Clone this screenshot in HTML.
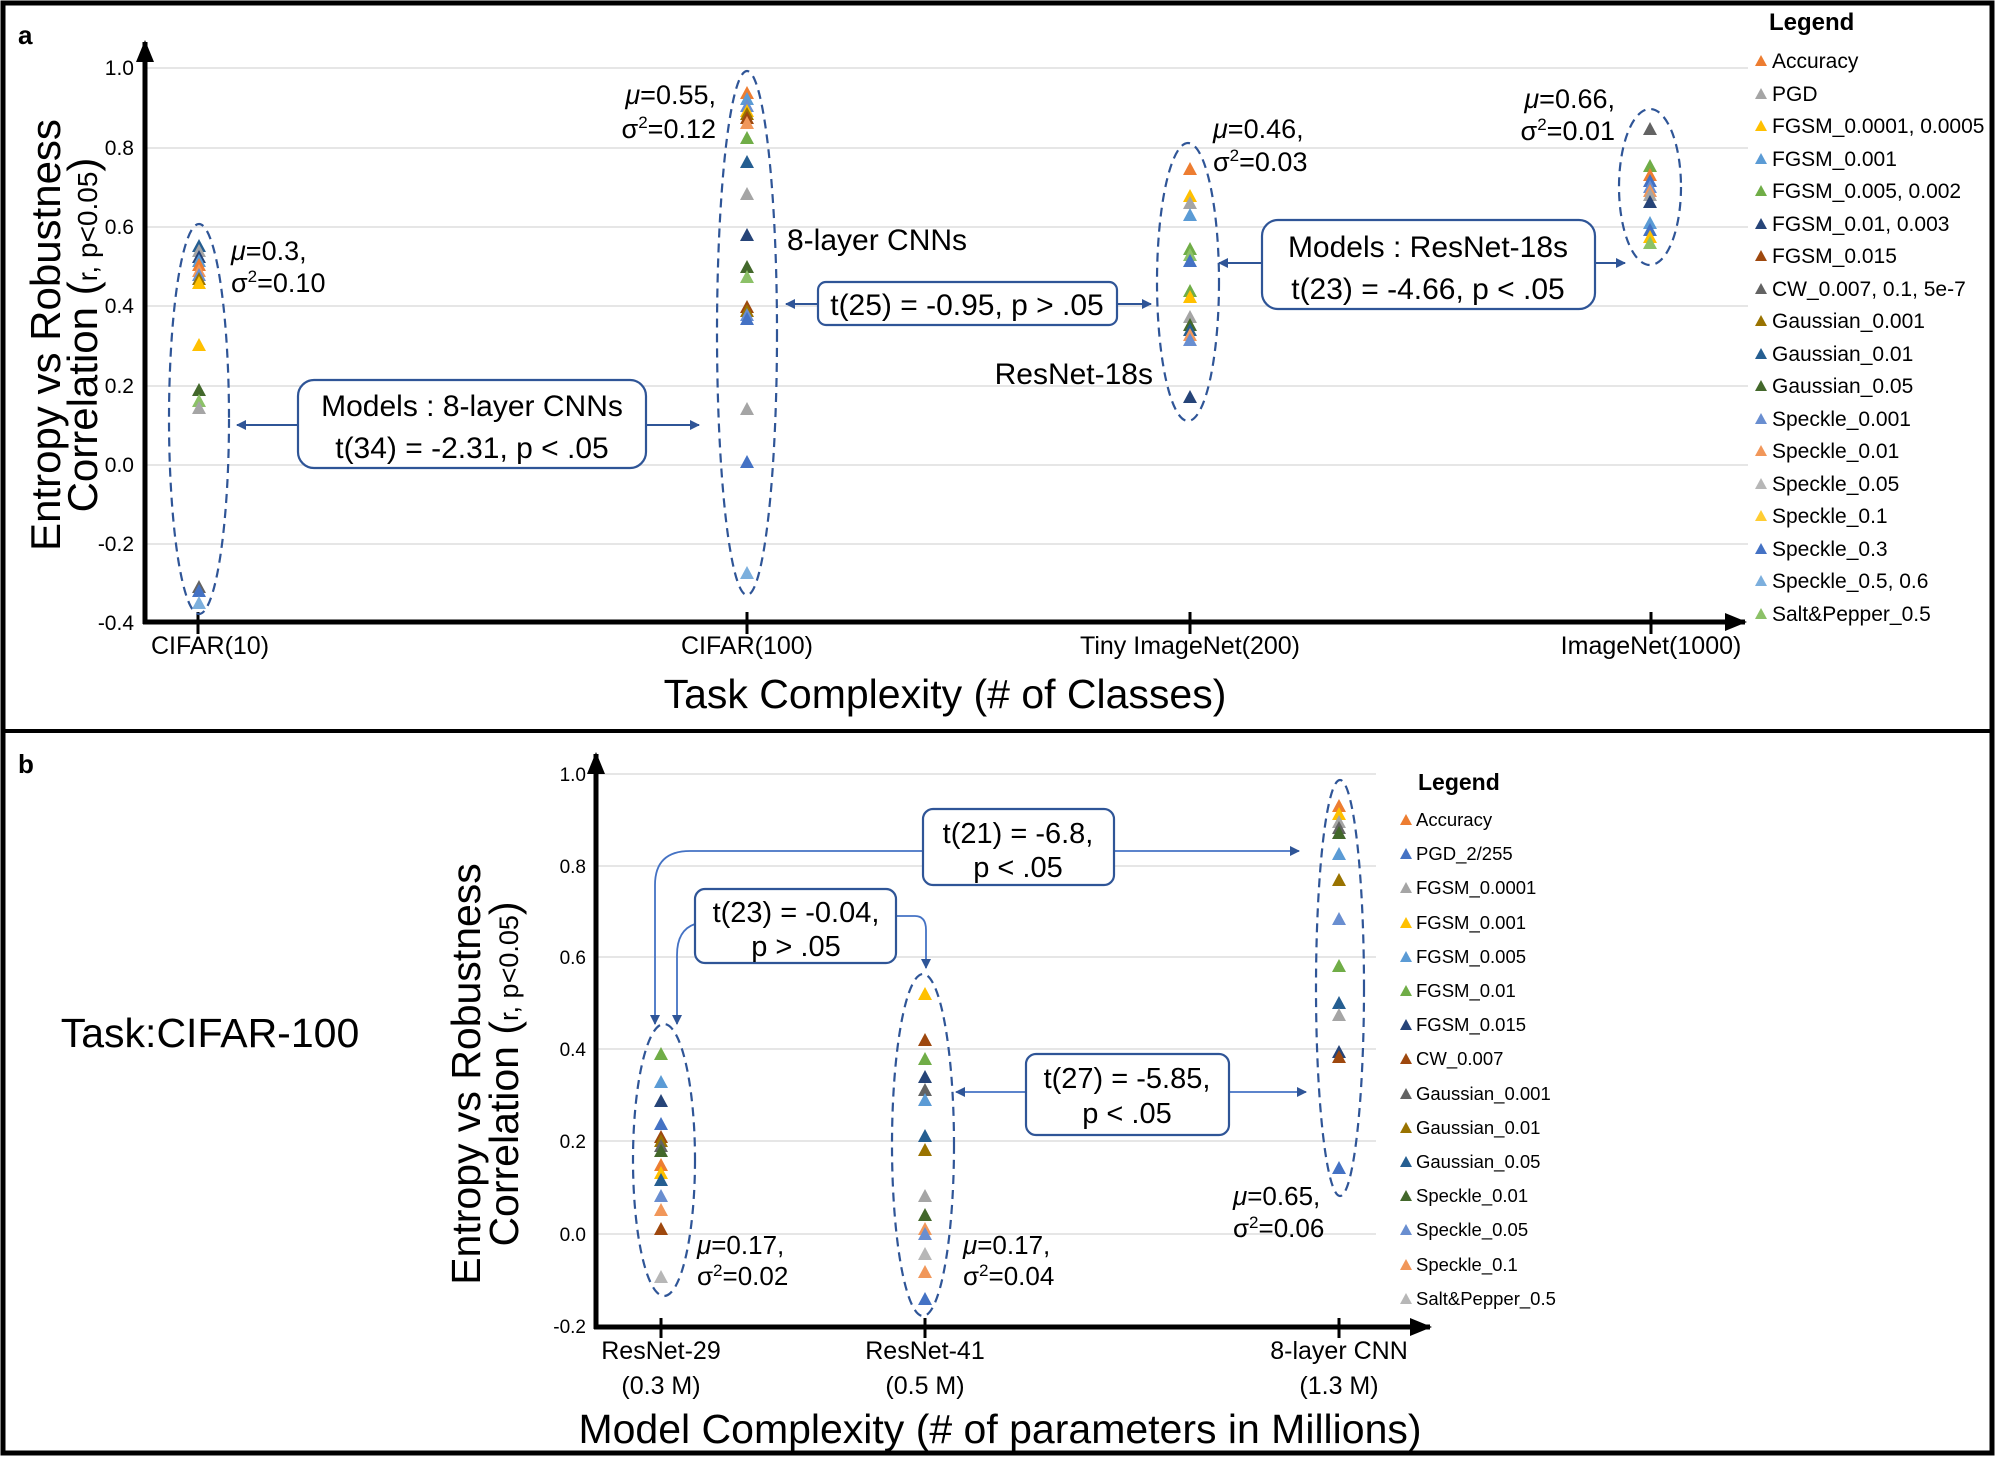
<!DOCTYPE html>
<html><head><meta charset="utf-8"><style>
html,body{margin:0;padding:0;background:#fff}
svg{display:block}
text{font-family:"Liberation Sans",Arial,sans-serif;fill:#000}
</style></head><body>
<svg width="1998" height="1458" viewBox="0 0 1998 1458" xmlns="http://www.w3.org/2000/svg">
<defs>
<path id="t" d="M0,-8 L7,5 L-7,5Z"/>
<path id="s" d="M0,-6 L6,5 L-6,5Z"/>
<marker id="ah" markerWidth="10" markerHeight="10" refX="9" refY="5" orient="auto" markerUnits="userSpaceOnUse"><path d="M0,0 L10,5 L0,10Z" fill="#2F5597"/></marker>
<marker id="ak" markerWidth="22" markerHeight="18" refX="20" refY="9" orient="auto" markerUnits="userSpaceOnUse"><path d="M0,0 L22,9 L0,18Z" fill="#000"/></marker>
</defs>
<rect x="3" y="3" width="1989" height="1450" fill="none" stroke="#000" stroke-width="5"/>
<line x1="3" y1="731" x2="1992" y2="731" stroke="#000" stroke-width="4"/>

<!-- ============ PANEL A ============ -->
<text x="18" y="44" font-size="26" font-weight="bold">a</text>
<g stroke="#e6e6e6" stroke-width="2">
<line x1="146" y1="68" x2="1748" y2="68"/><line x1="146" y1="148" x2="1748" y2="148"/><line x1="146" y1="227" x2="1748" y2="227"/><line x1="146" y1="306" x2="1748" y2="306"/><line x1="146" y1="386" x2="1748" y2="386"/><line x1="146" y1="465" x2="1748" y2="465"/><line x1="146" y1="544" x2="1748" y2="544"/>
</g>
<g font-size="21" text-anchor="end">
<text x="134" y="75">1.0</text><text x="134" y="155">0.8</text><text x="134" y="234">0.6</text><text x="134" y="313">0.4</text><text x="134" y="393">0.2</text><text x="134" y="472">0.0</text><text x="134" y="551">-0.2</text><text x="134" y="630">-0.4</text>
</g>
<line x1="145" y1="624" x2="145" y2="42" stroke="#000" stroke-width="5" marker-end="url(#ak)"/>
<line x1="143" y1="622" x2="1745" y2="622" stroke="#000" stroke-width="5" marker-end="url(#ak)"/>
<g stroke="#000" stroke-width="3"><line x1="198" y1="612" x2="198" y2="634"/><line x1="747" y1="612" x2="747" y2="634"/><line x1="1190" y1="612" x2="1190" y2="634"/><line x1="1651" y1="612" x2="1651" y2="634"/></g>
<g font-size="25" text-anchor="middle">
<text x="210" y="654">CIFAR(10)</text><text x="747" y="654">CIFAR(100)</text><text x="1190" y="654">Tiny ImageNet(200)</text><text x="1651" y="654">ImageNet(1000)</text>
</g>
<text x="945" y="708" font-size="41" text-anchor="middle">Task Complexity (# of Classes)</text>
<text transform="translate(60,335) rotate(-90)" font-size="42" text-anchor="middle">Entropy vs Robustness</text>
<text transform="translate(97,335) rotate(-90)" font-size="42" text-anchor="middle">Correlation (<tspan font-size="28">r, p&lt;0.05</tspan>)</text>

<g fill="none" stroke="#2F5597" stroke-width="2.2" stroke-dasharray="9,6">
<ellipse cx="199" cy="419" rx="30" ry="195"/>
<ellipse cx="747" cy="333" rx="30" ry="262"/>
<ellipse cx="1188" cy="282" rx="31" ry="139"/>
<ellipse cx="1650" cy="187" rx="31" ry="78"/>
</g>
<g>
<use href="#t" x="199" y="247" fill="#255E91"/><use href="#t" x="199" y="252" fill="#A5A5A5"/><use href="#t" x="199" y="258" fill="#264478"/><use href="#t" x="199" y="262" fill="#5B9BD5"/><use href="#t" x="199" y="266" fill="#ED7D31"/><use href="#t" x="199" y="272" fill="#F1975A"/><use href="#t" x="199" y="276" fill="#698ED0"/><use href="#t" x="199" y="280" fill="#997300"/><use href="#t" x="199" y="284" fill="#FFC000"/>
<use href="#t" x="199" y="346" fill="#FFC000"/><use href="#t" x="199" y="391" fill="#43682B"/><use href="#t" x="199" y="402" fill="#8CC168"/><use href="#t" x="199" y="409" fill="#A5A5A5"/>
<use href="#t" x="199" y="588" fill="#636363"/><use href="#t" x="199" y="592" fill="#4472C4"/><use href="#t" x="199" y="604" fill="#7CAFDD"/>
</g>
<g>
<use href="#t" x="747" y="94" fill="#ED7D31"/><use href="#t" x="747" y="100" fill="#5B9BD5"/><use href="#t" x="747" y="107" fill="#698ED0"/><use href="#t" x="747" y="112" fill="#FFC000"/><use href="#t" x="747" y="115" fill="#997300"/><use href="#t" x="747" y="119" fill="#9E480E"/><use href="#t" x="747" y="124" fill="#F1975A"/>
<use href="#t" x="747" y="139" fill="#70AD47"/><use href="#t" x="747" y="163" fill="#255E91"/><use href="#t" x="747" y="195" fill="#A5A5A5"/><use href="#t" x="747" y="236" fill="#264478"/>
<use href="#t" x="747" y="268" fill="#43682B"/><use href="#t" x="747" y="278" fill="#8CC168"/>
<use href="#t" x="747" y="308" fill="#9E480E"/><use href="#t" x="747" y="312" fill="#997300"/><use href="#t" x="747" y="316" fill="#698ED0"/><use href="#t" x="747" y="320" fill="#4472C4"/>
<use href="#t" x="747" y="410" fill="#A5A5A5"/><use href="#t" x="747" y="463" fill="#4472C4"/><use href="#t" x="747" y="574" fill="#7CAFDD"/>
</g>
<g>
<use href="#t" x="1190" y="170" fill="#ED7D31"/><use href="#t" x="1190" y="197" fill="#FFC000"/><use href="#t" x="1190" y="204" fill="#A5A5A5"/><use href="#t" x="1190" y="216" fill="#5B9BD5"/>
<use href="#t" x="1190" y="250" fill="#70AD47"/><use href="#t" x="1190" y="256" fill="#8CC168"/><use href="#t" x="1190" y="262" fill="#4472C4"/>
<use href="#t" x="1190" y="292" fill="#70AD47"/><use href="#t" x="1190" y="298" fill="#FFC000"/>
<use href="#t" x="1190" y="318" fill="#A5A5A5"/><use href="#t" x="1190" y="326" fill="#43682B"/><use href="#t" x="1190" y="331" fill="#255E91"/><use href="#t" x="1190" y="336" fill="#F1975A"/><use href="#t" x="1190" y="341" fill="#698ED0"/>
<use href="#t" x="1190" y="398" fill="#264478"/>
</g>
<g>
<use href="#t" x="1650" y="130" fill="#636363"/><use href="#t" x="1650" y="167" fill="#70AD47"/><use href="#t" x="1650" y="176" fill="#ED7D31"/><use href="#t" x="1650" y="182" fill="#4472C4"/><use href="#t" x="1650" y="188" fill="#698ED0"/><use href="#t" x="1650" y="192" fill="#F1975A"/><use href="#t" x="1650" y="196" fill="#A5A5A5"/><use href="#t" x="1650" y="203" fill="#264478"/>
<use href="#t" x="1650" y="224" fill="#5B9BD5"/><use href="#t" x="1650" y="231" fill="#4472C4"/><use href="#t" x="1650" y="238" fill="#FFC000"/><use href="#t" x="1650" y="244" fill="#8CC168"/>
</g>
<g font-size="27">
<text x="231" y="260"><tspan font-style="italic">μ</tspan>=0.3,</text>
<text x="231" y="292">σ<tspan font-size="17" dy="-10">2</tspan><tspan dy="10">=0.10</tspan></text>
<text x="716" y="104" text-anchor="end"><tspan font-style="italic">μ</tspan>=0.55,</text>
<text x="716" y="138" text-anchor="end">σ<tspan font-size="17" dy="-10">2</tspan><tspan dy="10">=0.12</tspan></text>
<text x="1213" y="138"><tspan font-style="italic">μ</tspan>=0.46,</text>
<text x="1213" y="171">σ<tspan font-size="17" dy="-10">2</tspan><tspan dy="10">=0.03</tspan></text>
<text x="1615" y="108" text-anchor="end"><tspan font-style="italic">μ</tspan>=0.66,</text>
<text x="1615" y="140" text-anchor="end">σ<tspan font-size="17" dy="-10">2</tspan><tspan dy="10">=0.01</tspan></text>
</g>
<g font-size="30">
<text x="787" y="250">8-layer CNNs</text>
<text x="1153" y="384" text-anchor="end">ResNet-18s</text>
</g>
<g fill="#fff" stroke="#2F5597" stroke-width="2.2">
<rect x="298" y="380" width="348" height="88" rx="16"/>
<rect x="818" y="282" width="299" height="43" rx="8"/>
<rect x="1262" y="220" width="333" height="89" rx="16"/>
</g>
<g stroke="#2F5597" stroke-width="2" fill="none" marker-end="url(#ah)">
<line x1="298" y1="425" x2="237" y2="425"/><line x1="646" y1="425" x2="699" y2="425"/>
<line x1="818" y1="304" x2="786" y2="304"/><line x1="1117" y1="304" x2="1151" y2="304"/>
<line x1="1262" y1="263" x2="1219" y2="263"/><line x1="1595" y1="263" x2="1625" y2="263"/>
</g>
<g font-size="30" text-anchor="middle">
<text x="472" y="416">Models : 8-layer CNNs</text>
<text x="472" y="458">t(34) = -2.31, p &lt; .05</text>
<text x="967" y="315">t(25) = -0.95, p &gt; .05</text>
<text x="1428" y="257">Models : ResNet-18s</text>
<text x="1428" y="299">t(23) = -4.66, p &lt; .05</text>
</g>
<text x="1769" y="30" font-size="24" font-weight="bold">Legend</text>
<g font-size="21">
<use href="#s" x="1761" y="61" fill="#ED7D31"/><text x="1772" y="68">Accuracy</text>
<use href="#s" x="1761" y="94" fill="#A5A5A5"/><text x="1772" y="101">PGD</text>
<use href="#s" x="1761" y="126" fill="#FFC000"/><text x="1772" y="133">FGSM_0.0001,  0.0005</text>
<use href="#s" x="1761" y="159" fill="#5B9BD5"/><text x="1772" y="166">FGSM_0.001</text>
<use href="#s" x="1761" y="191" fill="#70AD47"/><text x="1772" y="198">FGSM_0.005, 0.002</text>
<use href="#s" x="1761" y="224" fill="#264478"/><text x="1772" y="231">FGSM_0.01, 0.003</text>
<use href="#s" x="1761" y="256" fill="#9E480E"/><text x="1772" y="263">FGSM_0.015</text>
<use href="#s" x="1761" y="289" fill="#636363"/><text x="1772" y="296">CW_0.007, 0.1, 5e-7</text>
<use href="#s" x="1761" y="321" fill="#997300"/><text x="1772" y="328">Gaussian_0.001</text>
<use href="#s" x="1761" y="354" fill="#255E91"/><text x="1772" y="361">Gaussian_0.01</text>
<use href="#s" x="1761" y="386" fill="#43682B"/><text x="1772" y="393">Gaussian_0.05</text>
<use href="#s" x="1761" y="419" fill="#698ED0"/><text x="1772" y="426">Speckle_0.001</text>
<use href="#s" x="1761" y="451" fill="#F1975A"/><text x="1772" y="458">Speckle_0.01</text>
<use href="#s" x="1761" y="484" fill="#B7B7B7"/><text x="1772" y="491">Speckle_0.05</text>
<use href="#s" x="1761" y="516" fill="#FFCD33"/><text x="1772" y="523">Speckle_0.1</text>
<use href="#s" x="1761" y="549" fill="#4472C4"/><text x="1772" y="556">Speckle_0.3</text>
<use href="#s" x="1761" y="581" fill="#7CAFDD"/><text x="1772" y="588">Speckle_0.5, 0.6</text>
<use href="#s" x="1761" y="614" fill="#8CC168"/><text x="1772" y="621">Salt&amp;Pepper_0.5</text>
</g>

<!-- ============ PANEL B ============ -->
<text x="18" y="773" font-size="26" font-weight="bold">b</text>
<text x="210" y="1047" font-size="41" text-anchor="middle">Task:CIFAR-100</text>
<g stroke="#e6e6e6" stroke-width="2">
<line x1="598" y1="774" x2="1376" y2="774"/><line x1="598" y1="866" x2="1376" y2="866"/><line x1="598" y1="957" x2="1376" y2="957"/><line x1="598" y1="1049" x2="1376" y2="1049"/><line x1="598" y1="1141" x2="1376" y2="1141"/><line x1="598" y1="1234" x2="1376" y2="1234"/>
</g>
<g font-size="19" text-anchor="end">
<text x="586" y="781">1.0</text><text x="586" y="873">0.8</text><text x="586" y="964">0.6</text><text x="586" y="1056">0.4</text><text x="586" y="1148">0.2</text><text x="586" y="1241">0.0</text><text x="586" y="1333">-0.2</text>
</g>
<line x1="596" y1="1329" x2="596" y2="754" stroke="#000" stroke-width="5" marker-end="url(#ak)"/>
<line x1="594" y1="1327" x2="1430" y2="1327" stroke="#000" stroke-width="5" marker-end="url(#ak)"/>
<g stroke="#000" stroke-width="3"><line x1="661" y1="1318" x2="661" y2="1338"/><line x1="925" y1="1318" x2="925" y2="1338"/><line x1="1339" y1="1318" x2="1339" y2="1338"/></g>
<g font-size="25" text-anchor="middle">
<text x="661" y="1359">ResNet-29</text><text x="661" y="1394">(0.3 M)</text>
<text x="925" y="1359">ResNet-41</text><text x="925" y="1394">(0.5 M)</text>
<text x="1339" y="1359">8-layer CNN</text><text x="1339" y="1394">(1.3 M)</text>
</g>
<text x="1000" y="1443" font-size="41" text-anchor="middle">Model Complexity (# of parameters in Millions)</text>
<text transform="translate(480,1074) rotate(-90)" font-size="41" text-anchor="middle">Entropy vs Robustness</text>
<text transform="translate(518,1074) rotate(-90)" font-size="41" text-anchor="middle">Correlation (<tspan font-size="27">r, p&lt;0.05</tspan>)</text>

<g fill="none" stroke="#2F5597" stroke-width="2.2" stroke-dasharray="9,6">
<ellipse cx="664" cy="1160" rx="31" ry="136"/>
<ellipse cx="923" cy="1145" rx="31" ry="171"/>
<ellipse cx="1340" cy="988" rx="24" ry="208"/>
</g>
<g>
<use href="#t" x="661" y="1055" fill="#70AD47"/><use href="#t" x="661" y="1083" fill="#5B9BD5"/><use href="#t" x="661" y="1102" fill="#264478"/><use href="#t" x="661" y="1125" fill="#4472C4"/><use href="#t" x="661" y="1138" fill="#9E480E"/><use href="#t" x="661" y="1142" fill="#997300"/><use href="#t" x="661" y="1147" fill="#636363"/><use href="#t" x="661" y="1152" fill="#43682B"/><use href="#t" x="661" y="1166" fill="#ED7D31"/><use href="#t" x="661" y="1174" fill="#FFC000"/><use href="#t" x="661" y="1181" fill="#255E91"/><use href="#t" x="661" y="1197" fill="#698ED0"/><use href="#t" x="661" y="1211" fill="#F1975A"/><use href="#t" x="661" y="1230" fill="#9E480E"/><use href="#t" x="661" y="1278" fill="#B7B7B7"/>
</g>
<g>
<use href="#t" x="925" y="995" fill="#FFC000"/><use href="#t" x="925" y="1041" fill="#9E480E"/><use href="#t" x="925" y="1060" fill="#70AD47"/><use href="#t" x="925" y="1078" fill="#264478"/><use href="#t" x="925" y="1091" fill="#636363"/><use href="#t" x="925" y="1101" fill="#5B9BD5"/><use href="#t" x="925" y="1137" fill="#255E91"/><use href="#t" x="925" y="1151" fill="#997300"/><use href="#t" x="925" y="1197" fill="#A5A5A5"/><use href="#t" x="925" y="1216" fill="#43682B"/><use href="#t" x="925" y="1230" fill="#F1975A"/><use href="#t" x="925" y="1235" fill="#698ED0"/><use href="#t" x="925" y="1255" fill="#B7B7B7"/><use href="#t" x="925" y="1273" fill="#F1975A"/><use href="#t" x="925" y="1300" fill="#4472C4"/>
</g>
<g>
<use href="#t" x="1339" y="807" fill="#ED7D31"/><use href="#t" x="1339" y="815" fill="#FFC000"/><use href="#t" x="1339" y="823" fill="#A5A5A5"/><use href="#t" x="1339" y="829" fill="#636363"/><use href="#t" x="1339" y="834" fill="#43682B"/><use href="#t" x="1339" y="855" fill="#5B9BD5"/><use href="#t" x="1339" y="881" fill="#997300"/><use href="#t" x="1339" y="920" fill="#698ED0"/><use href="#t" x="1339" y="967" fill="#70AD47"/><use href="#t" x="1339" y="1004" fill="#255E91"/><use href="#t" x="1339" y="1016" fill="#A5A5A5"/><use href="#t" x="1339" y="1053" fill="#264478"/><use href="#t" x="1339" y="1058" fill="#9E480E"/><use href="#t" x="1339" y="1169" fill="#4472C4"/>
</g>
<g font-size="26">
<text x="697" y="1254"><tspan font-style="italic">μ</tspan>=0.17,</text>
<text x="697" y="1285">σ<tspan font-size="17" dy="-9">2</tspan><tspan dy="9">=0.02</tspan></text>
<text x="963" y="1254"><tspan font-style="italic">μ</tspan>=0.17,</text>
<text x="963" y="1285">σ<tspan font-size="17" dy="-9">2</tspan><tspan dy="9">=0.04</tspan></text>
<text x="1233" y="1205"><tspan font-style="italic">μ</tspan>=0.65,</text>
<text x="1233" y="1237">σ<tspan font-size="17" dy="-9">2</tspan><tspan dy="9">=0.06</tspan></text>
</g>
<g stroke="#4472C4" stroke-width="1.8" fill="none" marker-end="url(#ah)">
<path d="M923,851 L690,851 Q655,851 655,885 L655,1024"/>
<path d="M1114,851 L1299,851"/>
<path d="M695,924 Q677,930 677,955 L677,1024"/>
<path d="M896,916 L915,916 Q926,916 926,930 L926,968"/>
<path d="M1026,1092 L956,1092"/>
<path d="M1229,1092 L1306,1092"/>
</g>
<g fill="#fff" stroke="#2F5597" stroke-width="2.2">
<rect x="923" y="809" width="191" height="76" rx="10"/>
<rect x="695" y="889" width="201" height="74" rx="10"/>
<rect x="1026" y="1054" width="203" height="81" rx="10"/>
</g>
<g font-size="29" text-anchor="middle">
<text x="1018" y="843">t(21) = -6.8,</text><text x="1018" y="877">p &lt; .05</text>
<text x="796" y="922">t(23) = -0.04,</text><text x="796" y="956">p &gt; .05</text>
<text x="1127" y="1088">t(27) = -5.85,</text><text x="1127" y="1123">p &lt; .05</text>
</g>
<text x="1418" y="790" font-size="23" font-weight="bold">Legend</text>
<g font-size="18.5">
<use href="#s" x="1406" y="820" fill="#ED7D31"/><text x="1416" y="826">Accuracy</text>
<use href="#s" x="1406" y="854" fill="#4472C4"/><text x="1416" y="860">PGD_2/255</text>
<use href="#s" x="1406" y="888" fill="#A5A5A5"/><text x="1416" y="894">FGSM_0.0001</text>
<use href="#s" x="1406" y="923" fill="#FFC000"/><text x="1416" y="929">FGSM_0.001</text>
<use href="#s" x="1406" y="957" fill="#5B9BD5"/><text x="1416" y="963">FGSM_0.005</text>
<use href="#s" x="1406" y="991" fill="#70AD47"/><text x="1416" y="997">FGSM_0.01</text>
<use href="#s" x="1406" y="1025" fill="#264478"/><text x="1416" y="1031">FGSM_0.015</text>
<use href="#s" x="1406" y="1059" fill="#9E480E"/><text x="1416" y="1065">CW_0.007</text>
<use href="#s" x="1406" y="1094" fill="#636363"/><text x="1416" y="1100">Gaussian_0.001</text>
<use href="#s" x="1406" y="1128" fill="#997300"/><text x="1416" y="1134">Gaussian_0.01</text>
<use href="#s" x="1406" y="1162" fill="#255E91"/><text x="1416" y="1168">Gaussian_0.05</text>
<use href="#s" x="1406" y="1196" fill="#43682B"/><text x="1416" y="1202">Speckle_0.01</text>
<use href="#s" x="1406" y="1230" fill="#698ED0"/><text x="1416" y="1236">Speckle_0.05</text>
<use href="#s" x="1406" y="1265" fill="#F1975A"/><text x="1416" y="1271">Speckle_0.1</text>
<use href="#s" x="1406" y="1299" fill="#B7B7B7"/><text x="1416" y="1305">Salt&amp;Pepper_0.5</text>
</g>
</svg>
</body></html>
